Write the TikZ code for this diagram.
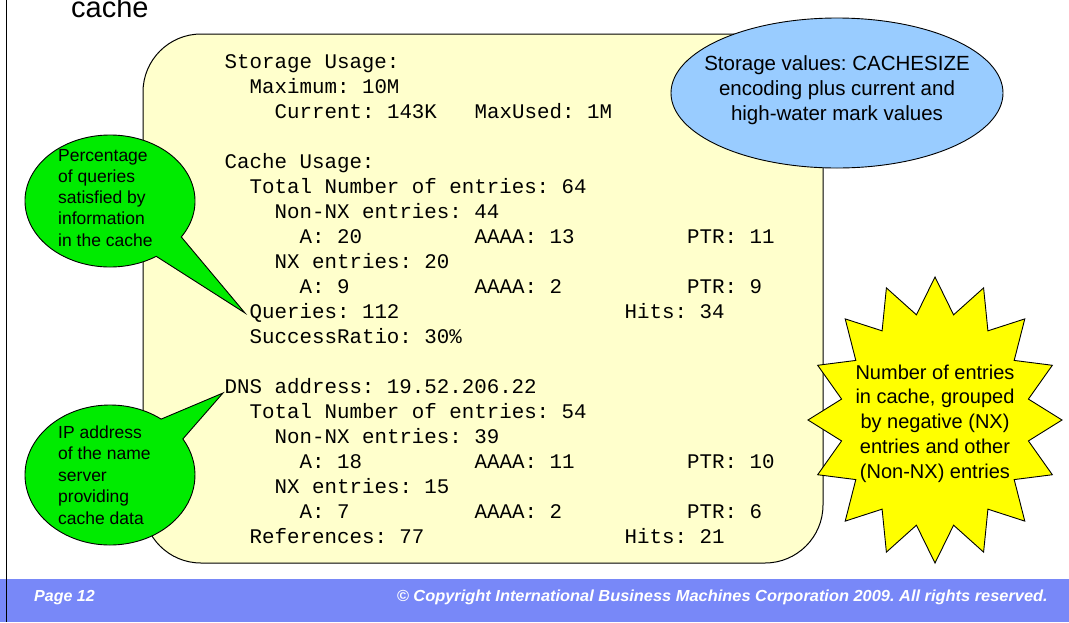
\documentclass[tikz,border=0pt]{standalone}
\usepackage{fontspec}
\usepackage{graphicx}
\setmainfont{Liberation Sans}
\newfontfamily\codefont{Liberation Mono}[WordSpace={1,0,0},PunctuationSpace=WordSpace]
\usetikzlibrary{calc}
\definecolor{boxyellow}{RGB}{255,255,204}
\definecolor{bubblegreen}{RGB}{0,235,0}
\definecolor{ovalblue}{RGB}{153,204,255}
\definecolor{staryellow}{RGB}{255,255,0}
\definecolor{footerblue}{RGB}{120,136,248}
\newcommand\fitwidth[2]{\setbox0\hbox{#2}\pgfmathsetmacro\fitfac{#1/\the\wd0}\scalebox{\fitfac}[1]{\box0}}
\frenchspacing
\begin{document}
\begin{tikzpicture}[x=1pt,y=-1pt,
  panel/.style={draw=black, line width=1pt, fill=boxyellow, rounded corners=58pt},
  code/.style={anchor=base west, inner sep=0pt, font=\codefont\frenchspacing\fontsize{20.8}{25}\selectfont},
  bubble/.style={draw=black, line width=0.9pt, fill=bubblegreen, line join=miter},
  bubbletext/.style={anchor=base west, inner sep=0pt, font=\fontsize{17.5}{21}\selectfont},
  oval/.style={draw=black, line width=0.9pt, fill=ovalblue},
  ovaltext/.style={anchor=base, inner sep=0pt, font=\fontsize{20.5}{25}\selectfont},
  starshape/.style={draw=black, line width=0.9pt, fill=staryellow, line join=miter},
  startext/.style={anchor=base, inner sep=0pt, font=\fontsize{20}{25}\selectfont},
  footer/.style={inner sep=0pt, text=white, font=\fontsize{16}{19}\selectfont\bfseries\itshape}]
\useasboundingbox (0,0) rectangle (1069,622);
\fill[white] (0,0) rectangle (1069,622);
% footer band and left rule
\fill[footerblue] (0,579) rectangle (1069,622);
\draw[line width=1pt] (6.5,0) -- (6.5,622);
% title fragment
\node[anchor=base west, inner sep=0pt, font=\fontsize{29}{34}\selectfont] (title) at (71,17) {cache};
% main panel
\draw[panel] (143,34) rectangle (823,563);
\foreach \r/\c/\t in {
  0/0/Storage Usage:,
  1/2/Maximum: 10M,
  2/4/Current: 143K,
  2/20/MaxUsed: 1M,
  4/0/Cache Usage:,
  5/2/Total Number of entries: 64,
  6/4/Non-NX entries: 44,
  7/6/A: 20,
  7/20/AAAA: 13,
  7/37/PTR: 11,
  8/4/NX entries: 20,
  9/6/A: 9,
  9/20/AAAA: 2,
  9/37/PTR: 9,
  10/2/Queries: 112,
  10/32/Hits: 34,
  11/2/SuccessRatio: 30\%,
  13/0/DNS address: 19.52.206.22,
  14/2/Total Number of entries: 54,
  15/4/Non-NX entries: 39,
  16/6/A: 18,
  16/20/AAAA: 11,
  16/37/PTR: 10,
  17/4/NX entries: 15,
  18/6/A: 7,
  18/20/AAAA: 2,
  18/37/PTR: 6,
  19/2/References: 77,
  19/32/Hits: 21}
  \node[code] (code-\r-\c) at ({224.5+12.5*\c},{68+25*\r}) {\t};
% blue oval
\draw[oval] (837,93) ellipse[x radius=166, y radius=75];
\foreach \t [count=\i] in {{Storage values: CACHESIZE},{encoding plus current and},{high-water mark values}}
  \node[ovaltext] (oval-\i) at (837,{70.5+25*(\i-1)}) {\t};
% green bubble 1 (queries)
\coordinate (b1) at (110,201);
\coordinate (tip1) at (245,313);
\draw[bubble] (tip1) -- ($(b1)+(33:85 and 66)$) arc[start angle=33, end angle=-303, x radius=85, y radius=66] -- cycle;
\foreach \t [count=\i] in {{Percentage},{of queries},{satisfied by},{information},{in the cache}}
  \node[bubbletext] (pct-\i) at (58,{161+21.3*(\i-1)}) {\t};
% green bubble 2 (DNS address)
\coordinate (b2) at (110,475);
\coordinate (tip2) at (223,393);
\draw[bubble] (tip2) -- ($(b2)+(-53:85 and 70)$) arc[start angle=-53, end angle=-391, x radius=85, y radius=70] -- cycle;
\foreach \t [count=\i] in {{IP address},{of the name},{server},{providing},{cache data}}
  \node[bubbletext] (ip-\i) at (58,{438+21.5*(\i-1)}) {\t};
% yellow star
\draw[starshape] (935,277) \foreach \k in {1,...,31} { -- ({935+127*(1-0.25*mod(\k,2))*sin(\k*11.25)},{420-143*(1-0.25*mod(\k,2))*cos(\k*11.25)}) } -- cycle;
\foreach \t [count=\i] in {{Number of entries},{in cache, grouped},{by negative (NX)},{entries and other},{(Non-NX) entries}}
  \node[startext] (star-\i) at (935,{379+24.8*(\i-1)}) {\t};
% footer text
\node[footer, anchor=base west] (page) at (34,601) {Page 12};
\node[footer, anchor=base east] (copyright) at (1048,601) {\fitwidth{651}{© Copyright International Business Machines Corporation 2009. All rights reserved.}};
\end{tikzpicture}
\end{document}
